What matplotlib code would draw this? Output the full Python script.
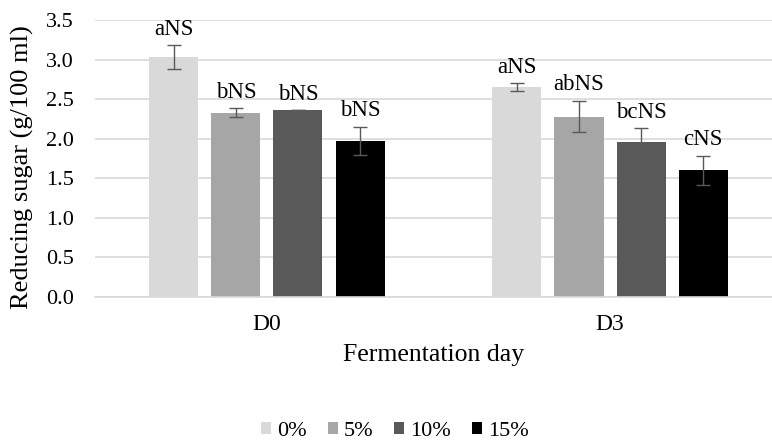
import matplotlib
matplotlib.use("Agg")
import matplotlib.pyplot as plt
import numpy as np

days = ["D0", "D3"]
series = ["0%", "5%", "10%", "15%"]
values = {
    "0%": [3.03, 2.65],
    "5%": [2.33, 2.28],
    "10%": [2.36, 1.96],
    "15%": [1.97, 1.60],
}
errors = {
    "0%": [0.15, 0.05],
    "5%": [0.055, 0.20],
    "10%": [0.0, 0.17],
    "15%": [0.18, 0.185],
}
labels = {
    "0%": ["aNS", "aNS"],
    "5%": ["bNS", "abNS"],
    "10%": ["bNS", "bcNS"],
    "15%": ["bNS", "cNS"],
}
colors = ["#D9D9D9", "#A6A6A6", "#595959", "#000000"]

plt.rcParams["font.family"] = ["Liberation Serif", "DejaVu Serif"]

W, H = 772, 441
fig = plt.figure(figsize=(W / 100, H / 100), dpi=100)
ax = fig.add_axes([95 / W, 1 - 297 / H, 1 - 95 / W, (297 - 20) / H])

x = np.arange(len(days))
width = 0.143
step = 0.181
for i, s in enumerate(series):
    pos = x + (i - 1.5) * step
    ax.bar(pos, values[s], width, color=colors[i], label=s, zorder=2)
    ax.errorbar(pos, values[s], yerr=errors[s], fmt="none", ecolor="#595959",
                elinewidth=1, capsize=5, capthick=1, zorder=3)
    for p, v, e, t in zip(pos, values[s], errors[s], labels[s]):
        ax.text(p, v + e + 0.135, t, ha="center", va="baseline", fontsize=16.5)

ax.set_ylim(0, 3.5)
yt = np.arange(0, 3.51, 0.5)
ax.set_yticks(yt)
ax.set_yticklabels([f"{v:.1f}" for v in yt], fontsize=16)
ax.set_xlim(-0.501, 1.472)
ax.set_xticks(x)
ax.set_xticklabels(days, fontsize=17)
ax.grid(axis="y", color="#D9D9D9", linewidth=1.2, zorder=0)
ax.set_axisbelow(True)
for sp in ["top", "right", "left"]:
    ax.spines[sp].set_visible(False)
ax.spines["bottom"].set_color("#D9D9D9")
ax.spines["bottom"].set_linewidth(1.2)
ax.tick_params(axis="y", length=0, pad=15)
ax.tick_params(axis="x", length=0, pad=12)
ax.set_xlabel("Fermentation day", fontsize=18.5, labelpad=7)
fig.text(22.5 / W, 1 - 167.5 / H, "Reducing sugar (g/100 ml)", rotation=90,
         ha="center", va="center", fontsize=19)

fig.legend(loc="center", bbox_to_anchor=(395 / W, 1 - 431 / H), ncol=4,
           frameon=False, fontsize=16, handlelength=0.45, handleheight=0.45,
           handletextpad=0.27, columnspacing=0.94)

fig.savefig("out.png", dpi=100)
